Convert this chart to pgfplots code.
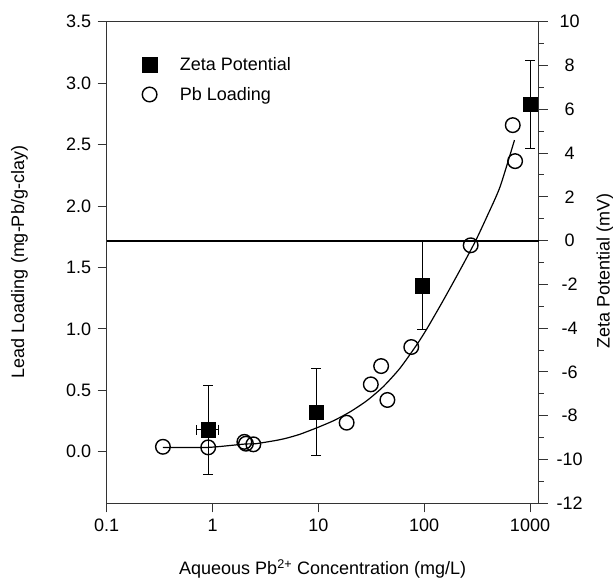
\documentclass[border=0pt]{standalone}
\usepackage{fontspec}
\setmainfont{Liberation Sans}
\usepackage{pgfplots}
\pgfplotsset{compat=1.18}
\newcommand{\fs}{\fontsize{18}{21.6}\selectfont}
\begin{document}
\begin{tikzpicture}
\useasboundingbox (0pt,0pt) rectangle (613pt,580pt);
% Left axis: Pb loading
\begin{axis}[
  at={(106.7pt,76.7pt)}, anchor=south west,
  width=432pt, height=481.6pt, scale only axis,
  xmode=log, xmin=0.1, xmax=1208,
  ymin=-0.42, ymax=3.5,
  xtick={0.1,1,10,100,1000}, xticklabels={0.1,1,10,100,1000},
  xminorticks=false, minor y tick num=0,
  ytick={0,0.5,...,3.5},
  xtick pos=left, ytick pos=left,
  tick align=outside, major tick length=9pt,
  axis line style={line width=0.9pt, black!80},
  tick style={line width=0.9pt, black!80},
  every tick label/.append style={font=\fs},
  /pgf/number format/assume math mode=true,
  yticklabel style={/pgf/number format/.cd, fixed, fixed zerofill, precision=1, /tikz/.cd, xshift=-3pt},
  xticklabel style={yshift=-3pt},
  clip=false,
]
\addplot[line width=1.2pt, black, smooth, tension=0.4] coordinates {
 (0.34,0.035) (0.91,0.035) (2.0,0.062) (2.5,0.064) (3,0.074) (4,0.092) (5,0.11)
 (6.7,0.142) (9.7,0.195) (13.9,0.252) (20,0.325) (28.7,0.415) (41,0.529)
 (59,0.679) (85,0.87) (106,1.0) (152,1.234) (218,1.478) (303,1.709)
 (391,1.912) (521,2.156) (713,2.536)
};
\addplot[only marks, mark=o, mark size=7.3pt, mark options={fill=white, line width=1.4pt, draw=black}] coordinates {
 (0.34,0.04) (0.91,0.035) (2.0,0.08) (2.07,0.065) (2.43,0.06)
 (18.5,0.236) (31.3,0.548) (39.2,0.697) (44.9,0.421) (75.5,0.852)
 (275,1.68) (687,2.658) (723,2.365)
};
\end{axis}
% Right axis: Zeta potential
\begin{axis}[
  at={(106.7pt,76.7pt)}, anchor=south west,
  width=432pt, height=481.6pt, scale only axis,
  xmode=log, xmin=0.1, xmax=1208,
  ymin=-12, ymax=10,
  hide x axis,
  axis y line*=right,
  ytick={-12,-10,...,10}, minor y tick num=1,
  tick align=outside, major tick length=9pt, minor tick length=5pt,
  axis line style={line width=0.9pt, black!80},
  tick style={line width=0.9pt, black!80},
  every tick label/.append style={font=\fs},
  /pgf/number format/assume math mode=true,
  yticklabel style={anchor=center, xshift=22pt},
  clip=false,
  legend style={draw=none, fill=none, font=\fs, at={(0.075,0.934)}, anchor=north west, row sep=11pt,
    /tikz/every odd column/.append style={column sep=21pt}},
  legend cell align=left,
]
\addlegendimage{only marks, mark=square*, mark size=7.3pt, black}
\addlegendentry{Zeta Potential}
\addlegendimage{only marks, mark=o, mark size=7.3pt, mark options={line width=1.4pt}, black}
\addlegendentry{Pb Loading}
\addplot[forget plot, line width=1.8pt, black] coordinates {(0.1,0) (1208,0)};
\addplot[forget plot, only marks, mark=square*, mark size=7.3pt, black,
  error bars/.cd, y dir=both, y explicit, x dir=both, x explicit,
  error bar style={line width=0.8pt, black},
  error mark options={rotate=90, mark size=5pt, line width=0.8pt, black}]
 table[x=x, y=y, x error minus=xm, x error plus=xp, y error=ye] {
 x y xm xp ye
 0.91 -8.64 0.21 0.22 2.02
};
\addplot[forget plot, only marks, mark=square*, mark size=7.3pt, black,
  error bars/.cd, y dir=both, y explicit,
  error bar style={line width=0.8pt, black},
  error mark options={rotate=90, mark size=5pt, line width=0.8pt, black}]
 table[x=x, y=y, y error=ye] {
 x y ye
 9.5 -7.84 1.98
 95.5 -2.05 2.0
 1000 6.23 2.0
};
\end{axis}
\node[font=\fs, rotate=90] at (19.5pt,318pt) {Lead Loading (mg-Pb/g-clay)};
\node[font=\fs, rotate=90] at (605pt,309pt) {Zeta Potential (mV)};
\node[font=\fs, anchor=base] at (322.7pt,5pt) {Aqueous Pb\textsuperscript{2+} Concentration (mg/L)};
\end{tikzpicture}
\end{document}
